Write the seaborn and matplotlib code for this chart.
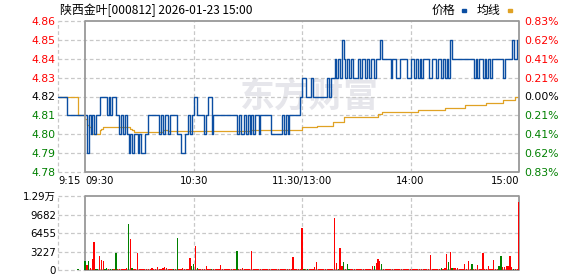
import numpy as np
import pandas as pd
import matplotlib
matplotlib.use("Agg")
import matplotlib.pyplot as plt
import seaborn as sns
from matplotlib.patches import Rectangle

sns.set_theme(style="white")
plt.rcParams["font.family"] = ["DejaVu Sans", "Noto Sans CJK SC"]

# ---------------- data ----------------
title_text = "陕西金叶[000812] 2026-01-23 15:00"
legend_names = ["价格", "均线"]
prev_close = 4.82
price_ticks = [4.86, 4.85, 4.84, 4.83, 4.82, 4.81, 4.80, 4.79, 4.78]
price_labels = ["4.86", "4.85", "4.84", "4.83", "4.82", "4.81", "4.80", "4.79", "4.78"]
pct_labels = ["0.83%", "0.62%", "0.41%", "0.21%", "0.00%", "0.21%", "0.41%", "0.62%", "0.83%"]
vol_ticks = [0, 3227, 6455, 9682, 12910]
vol_labels = ["0", "3227", "6455", "9682", "1.29万"]
time_ticks = [-15, 0, 60, 120, 180, 240]
time_labels = ["9:15", "09:30", "10:30", "11:30/13:00", "14:00", "15:00"]

# pre-market (9:15 .. 9:30), minutes relative to 09:30
pre_minutes = [-15, -14, -13, -12, -11, -10, -9, -8, -7, -6, -5, -4, -3, -2, -1, 0]
pre_price = [4.82, 4.82, 4.82, 4.82, 4.82, 4.81, 4.81, 4.81, 4.81, 4.81, 4.81, 4.81, 4.81, 4.81, 4.81, 4.81]
pre_avg = [4.82, 4.82, 4.82, 4.82, 4.82, 4.82, 4.82, 4.82, 4.82, 4.82, 4.82, 4.81, 4.81, 4.81, 4.81, 4.81]
pre_vol_minute = [-4]
pre_vol = [260]

# trading minutes 0..240 (09:30-11:30, 13:00-15:00)
price = [
    4.81, 4.79, 4.81, 4.80, 4.81, 4.80, 4.81, 4.81, 4.82, 4.82,
    4.82, 4.82, 4.81, 4.82, 4.81, 4.82, 4.82, 4.81, 4.81, 4.80,
    4.81, 4.80, 4.81, 4.80, 4.79, 4.80, 4.79, 4.80, 4.80, 4.79,
    4.80, 4.79, 4.79, 4.80, 4.80, 4.81, 4.81, 4.81, 4.81, 4.81,
    4.81, 4.80, 4.81, 4.80, 4.81, 4.81, 4.80, 4.81, 4.81, 4.81,
    4.81, 4.80, 4.80, 4.79, 4.79, 4.80, 4.80, 4.81, 4.80, 4.81,
    4.82, 4.82, 4.81, 4.81, 4.81, 4.81, 4.80, 4.81, 4.82, 4.82,
    4.80, 4.81, 4.81, 4.81, 4.81, 4.81, 4.81, 4.81, 4.81, 4.81,
    4.81, 4.81, 4.81, 4.81, 4.80, 4.81, 4.80, 4.80, 4.81, 4.80,
    4.81, 4.80, 4.81, 4.80, 4.81, 4.81, 4.80, 4.81, 4.81, 4.81,
    4.81, 4.81, 4.81, 4.80, 4.80, 4.80, 4.80, 4.80, 4.80, 4.81,
    4.80, 4.81, 4.80, 4.81, 4.81, 4.81, 4.81, 4.81, 4.81, 4.82,
    4.83, 4.83, 4.82, 4.82, 4.82, 4.83, 4.82, 4.82, 4.82, 4.82,
    4.82, 4.82, 4.82, 4.82, 4.83, 4.82, 4.83, 4.83, 4.84, 4.83,
    4.84, 4.83, 4.85, 4.84, 4.83, 4.84, 4.83, 4.84, 4.83, 4.83,
    4.83, 4.84, 4.83, 4.84, 4.84, 4.83, 4.84, 4.83, 4.84, 4.84,
    4.83, 4.84, 4.84, 4.85, 4.84, 4.84, 4.84, 4.84, 4.84, 4.83,
    4.84, 4.84, 4.83, 4.83, 4.84, 4.84, 4.84, 4.84, 4.83, 4.83,
    4.84, 4.84, 4.83, 4.84, 4.83, 4.84, 4.83, 4.84, 4.84, 4.84,
    4.83, 4.83, 4.84, 4.84, 4.83, 4.84, 4.84, 4.83, 4.84, 4.83,
    4.84, 4.83, 4.85, 4.84, 4.84, 4.84, 4.84, 4.84, 4.84, 4.84,
    4.84, 4.84, 4.84, 4.84, 4.84, 4.83, 4.84, 4.83, 4.84, 4.84,
    4.83, 4.84, 4.83, 4.84, 4.83, 4.84, 4.84, 4.84, 4.84, 4.84,
    4.84, 4.83, 4.84, 4.84, 4.84, 4.84, 4.85, 4.84, 4.84, 4.85,
    4.85,
]

# average line, read as runs of constant value
avg_levels = [4.808, 4.805, 4.804, 4.802, 4.800, 4.802, 4.803, 4.804, 4.803, 4.802,
              4.801, 4.802, 4.8015, 4.8017, 4.8023, 4.8038, 4.8045, 4.8067, 4.8090,
              4.8106, 4.8117, 4.8129, 4.8141, 4.8157, 4.8168, 4.8182, 4.8196]
avg_runs = [1, 1, 1, 1, 4, 1, 1, 15, 1, 1, 16, 3, 15, 31, 28, 8, 9, 6, 19, 2, 20,
            15, 11, 12, 9, 7, 3]

volume = [
    1570, 870, 1570, 300, 1910, 4870, 230, 230, 2440, 1740,
    1570, 230, 400, 230, 230, 230, 230, 2960, 230, 230,
    230, 230, 230, 400, 8000, 5390, 400, 260, 260, 2960,
    230, 260, 230, 230, 260, 230, 230, 400, 260, 230,
    520, 260, 230, 400, 520, 400, 230, 230, 230, 230,
    230, 5570, 230, 230, 400, 230, 260, 230, 2090, 700,
    1040, 4180, 400, 230, 230, 230, 230, 700, 230, 230,
    260, 230, 230, 230, 230, 870, 230, 260, 230, 230,
    230, 230, 230, 230, 3300, 260, 230, 400, 230, 230,
    230, 230, 3300, 260, 230, 230, 230, 230, 230, 230,
    230, 230, 230, 230, 230, 230, 230, 230, 230, 230,
    230, 230, 230, 230, 230, 2260, 230, 230, 230, 230,
    7390, 230, 260, 230, 260, 230, 260, 460, 1400, 230,
    230, 230, 230, 230, 230, 230, 230, 230, 9000, 1200,
    260, 3800, 650, 1350, 230, 1000, 260, 230, 230, 230,
    230, 230, 230, 230, 230, 230, 230, 230, 230, 650,
    650, 1150, 2000, 1500, 1000, 230, 230, 230, 230, 230,
    230, 230, 230, 230, 230, 230, 230, 230, 230, 230,
    230, 230, 230, 230, 230, 230, 230, 230, 230, 230,
    230, 2600, 230, 230, 260, 230, 230, 300, 260, 350,
    2750, 1350, 3100, 300, 330, 300, 330, 260, 260, 230,
    1000, 260, 1550, 260, 1000, 260, 260, 800, 260, 260,
    2950, 260, 260, 750, 260, 260, 1750, 260, 260, 650,
    2440, 550, 550, 650, 700, 2440, 600, 260, 230, 230,
    11870,
]
down_minutes = [0, 2, 6, 7, 11, 12, 14, 15, 17, 24, 26, 49, 51, 59, 60, 62, 70, 84,
                121, 123, 140, 143, 145, 146, 160, 164, 197, 201, 203, 214, 229, 230, 237]

# ---------------- frames ----------------
minutes = list(range(len(price)))
avg = np.repeat(avg_levels, avg_runs)
pdf = pd.DataFrame({"minute": minutes, "price": price, "avg": avg})
predf = pd.DataFrame({"minute": pre_minutes, "price": pre_price, "avg": pre_avg})
vdf = pd.DataFrame({
    "minute": pre_vol_minute + minutes,
    "volume": pre_vol + volume,
    "dir": ["down"] + ["down" if m in down_minutes else "up" for m in minutes],
})

# ---------------- styling ----------------
W, H = 578, 276
BLUE = "#0b4ea2"
GOLD = "#e0a224"
RED = "#ff0000"
GREEN = "#008000"
GRID = "#c8c8c8"
BORDER = "#999999"
DASH = (0, (3, 2))

fig = plt.figure(figsize=(W / 100, H / 100), dpi=100)
fig.patch.set_facecolor("white")
ax = fig.add_axes([58 / W, 1 - 172 / H, 461 / W, 151 / H])
axv = fig.add_axes([58 / W, 1 - 270 / H, 461 / W, 74 / H])

# watermark
ax.text(0.545, 0.50, "东方财富", transform=ax.transAxes, ha="center", va="center",
        fontsize=25, color="#e6e6eb", fontweight="bold", zorder=0.5,
        family=["Noto Sans CJK SC"])

# price lines
sns.lineplot(data=predf, x="minute", y="avg", ax=ax, color=GOLD, lw=0.9,
             drawstyle="steps-post", estimator=None, zorder=3)
sns.lineplot(data=predf, x="minute", y="price", ax=ax, color=BLUE, lw=1.0,
             drawstyle="steps-post", estimator=None, zorder=4)
sns.lineplot(data=pdf, x="minute", y="avg", ax=ax, color=GOLD, lw=0.9,
             drawstyle="steps-post", estimator=None, zorder=3)
sns.lineplot(data=pdf, x="minute", y="price", ax=ax, color=BLUE, lw=1.0,
             drawstyle="steps-post", estimator=None, zorder=4)

# volume bars
sns.barplot(data=vdf, x="minute", y="volume", hue="dir",
            palette={"up": RED, "down": GREEN}, native_scale=True, dodge=False,
            width=0.75, saturation=1, legend=False, errorbar=None, ax=axv,
            linewidth=0, antialiased=False)
for p in axv.patches:
    p.set_zorder(6)


def frame(a, y0, y1, ygrid):
    a.set_xlim(-15, 240)
    a.set_ylim(y0, y1)
    for s in a.spines.values():
        s.set_visible(False)
    a.set_facecolor("none")
    for y in ygrid:
        a.axhline(y, color=GRID, lw=0.9, ls=DASH, zorder=1)
    for y in (y0, y1):
        a.hlines(y, -15, 0, color=GRID, lw=0.9, ls=DASH, zorder=1, clip_on=False)
        a.hlines(y, 0, 240, color=BORDER, lw=1.3, zorder=5, clip_on=False)
    a.axvline(-15, color=GRID, lw=0.9, ls=DASH, zorder=1, clip_on=False)
    for x in (60, 120, 180):
        a.axvline(x, color=GRID, lw=0.9, ls=DASH, zorder=1)
    for x in (0, 240):
        a.axvline(x, color=BORDER, lw=1.3, zorder=5, clip_on=False)
    a.set_xlabel("")
    a.set_ylabel("")


frame(ax, 4.78, 4.86, price_ticks[1:-1])
frame(axv, 0, vol_ticks[-1], vol_ticks[1:-1])


def label_color(v):
    if v > prev_close + 1e-9:
        return RED
    if v < prev_close - 1e-9:
        return GREEN
    return "#000000"


ax.set_yticks(price_ticks)
ax.set_yticklabels(price_labels)
ax.tick_params(axis="y", length=0, pad=1.5, labelsize=7.8)
for lbl, v in zip(ax.get_yticklabels(), price_ticks):
    lbl.set_color(label_color(v))

ax.set_xticks(time_ticks)
ax.set_xticklabels(time_labels)
ax.tick_params(axis="x", length=0, pad=3, labelsize=7.2, labelcolor="#000000")
xl = ax.get_xticklabels()
xl[0].set_ha("left")
xl[1].set_ha("left")
xl[-1].set_ha("right")

axr = ax.twinx()
axr.set_ylim(4.78, 4.86)
for s in axr.spines.values():
    s.set_visible(False)
axr.set_yticks(price_ticks)
axr.set_yticklabels(pct_labels)
axr.tick_params(axis="y", length=0, pad=4, labelsize=7.8)
for lbl, v in zip(axr.get_yticklabels(), price_ticks):
    lbl.set_color(label_color(v))

axv.set_yticks(vol_ticks)
axv.set_yticklabels(vol_labels)
axv.tick_params(axis="y", length=0, pad=1.5, labelsize=7.4, labelcolor="#000000")
axv.set_xticks([])

# title and legend
fig.text(60 / W, 1 - 10 / H, title_text, ha="left", va="center", fontsize=8.6,
         color="#000000", family=["Noto Sans CJK SC"])
fig.text(432 / W, 1 - 10 / H, legend_names[0], ha="left", va="center", fontsize=8.6,
         color="#000000", family=["Noto Sans CJK SC"])
fig.text(477 / W, 1 - 10 / H, legend_names[1], ha="left", va="center", fontsize=8.6,
         color="#000000", family=["Noto Sans CJK SC"])
fig.add_artist(Rectangle((462 / W, 1 - 12 / H), 4 / W, 3 / H, color=BLUE,
                         transform=fig.transFigure))
fig.add_artist(Rectangle((508 / W, 1 - 12 / H), 4 / W, 3 / H, color=GOLD,
                         transform=fig.transFigure))

fig.savefig("out.png", dpi=100, facecolor="white")
